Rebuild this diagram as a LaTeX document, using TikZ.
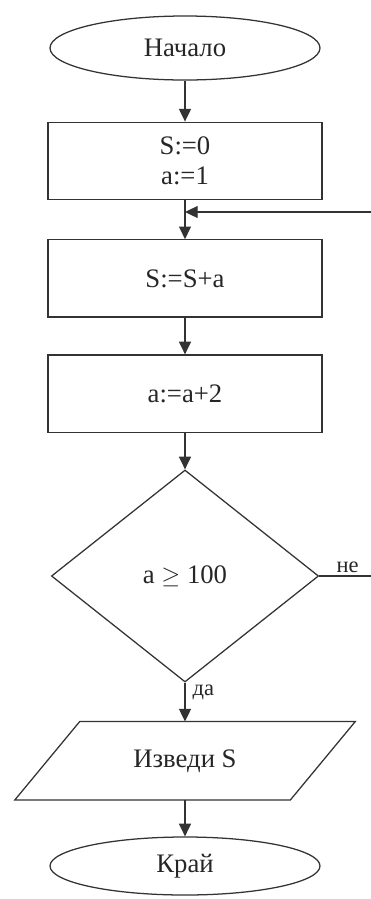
\documentclass[tikz,border=0pt]{standalone}
\usepackage{fontspec}
\setmainfont{Liberation Serif}
\usepackage{tikz}
\usetikzlibrary{arrows.meta,positioning,shapes.geometric}

\begin{document}
\begin{tikzpicture}[
    every node/.style={font=\fontsize{19}{22}\selectfont, text=black!85},
    terminal/.style={ellipse, draw=black!80, line width=0.9pt, minimum width=6.75cm, minimum height=1.6cm, inner sep=0pt},
    process/.style={rectangle, draw=black!80, line width=0.9pt, minimum width=6.85cm, minimum height=1.93cm, align=center},
    decision/.style={diamond, draw=black!80, line width=0.9pt, minimum width=6.68cm, minimum height=5.3cm, inner sep=0pt},
    label/.style={font=\fontsize{16}{18}\selectfont, inner sep=2pt},
    flow/.style={-{Triangle[length=9pt, width=8.5pt]}, draw=black!80, line width=0.9pt},
    edge/.style={draw=black!80, line width=0.9pt}
    ]
    \useasboundingbox (0,0) rectangle (9.275,-22.475);

    \node[terminal] (start) at (4.625,-1.2) {Начало};
    \node[process] (init) at (4.625,-4.02) {S:=0\\a:=1};
    \node[process] (sum) at (4.625,-6.96) {S:=S+a};
    \node[process] (step) at (4.625,-9.84) {a:=a+2};
    \node[decision] (check) at (4.625,-14.4) {a $\geq$ 100};
    \node[minimum width=8.5cm, minimum height=1.95cm, inner sep=0pt] (print) at (4.625,-19.02) {Изведи S};
    \node[terminal, minimum height=1.45cm] (stop) at (4.625,-21.65) {Край};

    % parallelogram of the output block
    \draw[edge] ([xshift=1.625cm]print.north west) -- (print.north east)
        -- ([xshift=-1.625cm]print.south east) -- (print.south west) -- cycle;

    \coordinate (back) at (9.275,-5.3);
    \coordinate (noend) at (9.275,-14.4);

    \draw[flow] (start) -- (init);
    \draw[flow] (init) -- (sum);
    \draw[flow] (back) -- (back -| init.south);
    \draw[flow] (sum) -- (step);
    \draw[flow] (step) -- (check.north);
    \draw[edge] (check.east) -- (noend) node[pos=0.55, above, label] {не};
    \draw[flow] (check.south) -- (print.north) node[pos=0.25, right, xshift=3pt, label] {да};
    \draw[flow] (print.south) -- (stop);
\end{tikzpicture}
\end{document}
